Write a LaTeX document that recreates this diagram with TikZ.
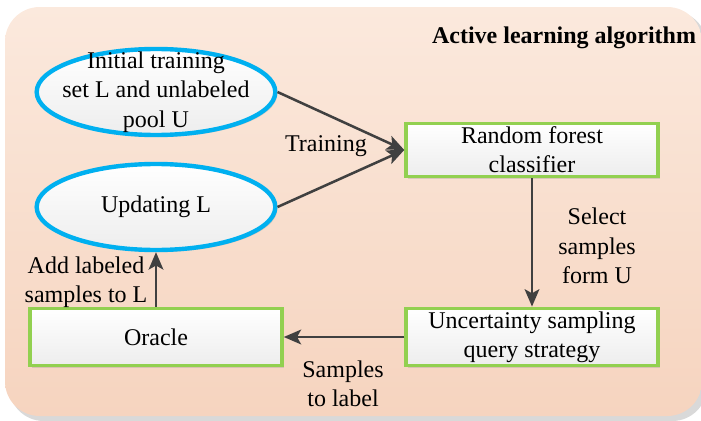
\documentclass[tikz,border=0pt]{standalone}
\usepackage{fontspec}
\setmainfont{Liberation Serif}
\usetikzlibrary{arrows.meta,shadows,shapes.geometric}
\definecolor{bgtop}{HTML}{FBE9DD}
\definecolor{bgbot}{HTML}{F6D4BF}
\definecolor{ellblue}{HTML}{00B0F0}
\definecolor{boxgreen}{HTML}{92D050}
\definecolor{arrowgray}{HTML}{404040}

\begin{document}
\begin{tikzpicture}[x=0.75pt,y=-0.75pt,
  every node/.style={font=\fontsize{18}{22}\selectfont},
  txt/.style={align=center},
  ellbox/.style={ellipse,draw=ellblue,line width=3.3pt,top color=white,bottom color=gray!14,
    minimum width=179pt,minimum height=64.5pt,inner sep=0pt,
    drop shadow={opacity=0.25,shadow xshift=1.5pt,shadow yshift=-1.5pt}},
  stepbox/.style={rectangle,draw=boxgreen,line width=2.6pt,top color=white,bottom color=gray!14,
    minimum width=189pt,inner sep=0pt,align=center,
    drop shadow={opacity=0.25,shadow xshift=1.5pt,shadow yshift=-1.5pt}},
  flow/.style={draw=arrowgray,line width=1.9pt,-{Stealth[length=13pt,width=11pt,inset=3pt]}}]
  \useasboundingbox (0,0) rectangle (701,421);

  % background panel
  \fill[gray!30,rounded corners=26pt] (9,11) rectangle (707,421);
  \shade[top color=bgtop,bottom color=bgbot,rounded corners=26pt] (5,7) rectangle (702,416);
  \node[font=\bfseries\fontsize{18}{22}\selectfont] (title) at (564,38) {Active learning algorithm};

  % blocks
  \node[ellbox,label={[txt]center:Initial training\\set L and unlabeled\\pool U}] (init) at (156,92) {};
  \node[ellbox,label={[txt]center:Updating L}] (upd) at (156,207) {};
  \node[stepbox,minimum height=40pt] (rf) at (532,150) {Random forest\\classifier};
  \node[stepbox,minimum height=43pt] (unc) at (532,337) {Uncertainty sampling\\query strategy};
  \node[stepbox,minimum height=43pt] (orc) at (156,337) {Oracle};

  % arrows
  \draw[flow] (init.east) -- (rf.west);
  \draw[flow] (upd.east) -- (rf.west);
  \draw[flow] (rf) -- (unc);
  \draw[flow] (unc) -- (orc);
  \draw[flow] (orc) -- (upd);

  % arrow labels
  \node (train) at (326,146) {Training};
  \node[txt] (sel) at (597,246) {Select\\samples\\form U};
  \node[txt] (smp) at (343,384) {Samples\\to label};
  \node[txt] (add) at (86,282) {Add labeled\\samples to L};
\end{tikzpicture}
\end{document}
